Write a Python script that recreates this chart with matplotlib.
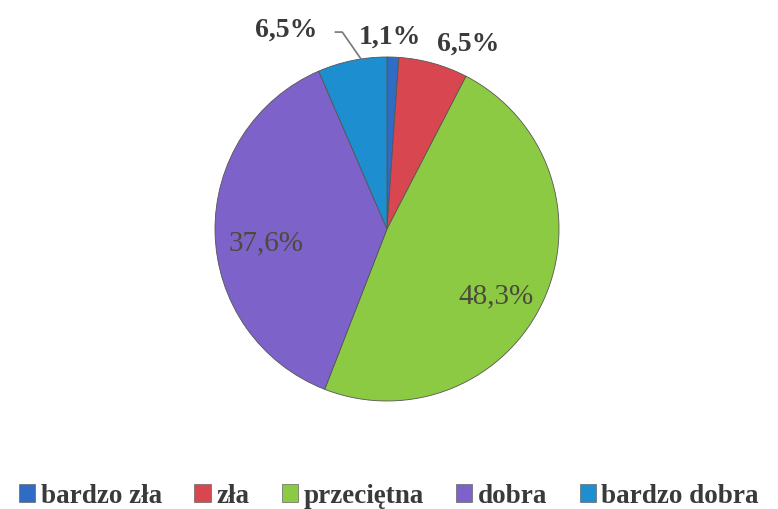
import numpy as np
import matplotlib.pyplot as plt

categories = ["bardzo zła", "zła", "przeciętna", "dobra", "bardzo dobra"]
values = [1.1, 6.5, 48.3, 37.6, 6.5]
labels = ["1,1%", "6,5%", "48,3%", "37,6%", "6,5%"]
colors = ["#2f6cc4", "#d8474f", "#8dca43", "#7c62c9", "#1d8fd0"]

plt.rcParams['font.family'] = ['Liberation Serif', 'DejaVu Serif']

fig = plt.figure(figsize=(7.78, 5.10), dpi=100)
ax = fig.add_axes([215 / 778, 108 / 510, 344 / 778, 344 / 510])
wedges, _ = ax.pie(values, colors=colors, startangle=90, counterclock=False,
                   radius=1.0, wedgeprops=dict(edgecolor="#555555", linewidth=0.6))
ax.set_aspect("equal")
ax.set_xlim(-1, 1)
ax.set_ylim(-1, 1)

# label placement: (radius, angle shift in degrees, bold outside?)
place = [(1.12, 1, True), (1.18, -8, True), (0.74, -7, False),
         (0.71, 5, False), (1.30, 15, True)]
for w, lab, (r, shift, outside) in zip(wedges, labels, place):
    mid = np.deg2rad((w.theta1 + w.theta2) / 2 + shift)
    x, y = r * np.cos(mid), r * np.sin(mid)
    if outside:
        ax.text(x, y, lab, ha="center", va="center", fontsize=20,
                fontweight="bold", color="#3a3a3a", clip_on=False)
    else:
        ax.text(x, y, lab, ha="center", va="center", fontsize=21,
                color="#4b4b3b", clip_on=False)

# leader line for the left 6,5% label
w = wedges[4]
m = np.deg2rad((w.theta1 + w.theta2) / 2 - 3)
ax.plot([np.cos(m) * 1.0, -0.26, -0.30], [np.sin(m) * 1.0, 1.145, 1.145],
        color="#777777", lw=1.2, clip_on=False)

handles = [plt.Rectangle((0, 0), 1, 1, facecolor=c, edgecolor="#666666", lw=0.5)
           for c in colors]
fig.legend(handles, categories, loc="center", bbox_to_anchor=(0.5, 1 - 497 / 510),
           ncol=5, frameon=False, handlelength=0.6, handleheight=0.6,
           handletextpad=0.2, columnspacing=1.2,
           prop=dict(size=19.5, weight="bold"), labelcolor="#3a3a3a")

fig.savefig("out.png", dpi=100)
